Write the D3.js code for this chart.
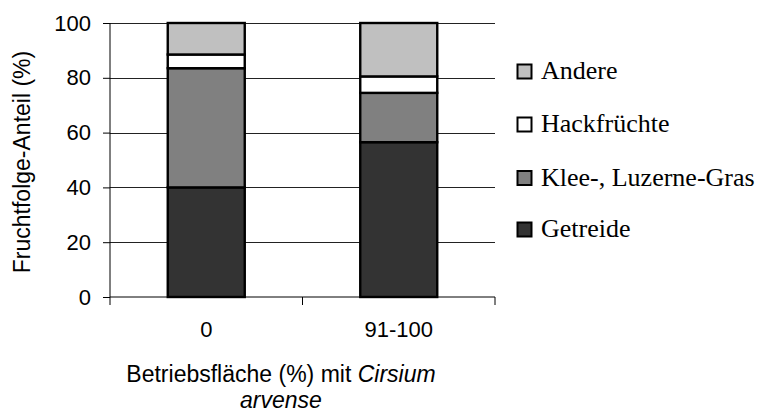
<!DOCTYPE html>
<html>
<head>
<meta charset="utf-8">
<script src="https://cdn.jsdelivr.net/npm/d3@7"></script>
<style>
  html, body { margin: 0; padding: 0; background: #fff; }
  svg { display: block; }
</style>
</head>
<body>
<svg id="chart" width="765" height="414"></svg>
<script>
// ---- Data ----
const categories = ["0", "91-100"];
const seriesNames = ["Getreide", "Klee-, Luzerne-Gras", "Hackfrüchte", "Andere"];
const getreide = [40, 56.5];
const kleeGras = [43.5, 18];
const hackfruechte = [5, 6];
const andere = [11.5, 19.5];
const yTicks = [0, 20, 40, 60, 80, 100];
const legendOrder = ["Andere", "Hackfrüchte", "Klee-, Luzerne-Gras", "Getreide"];
const colors = {
  "Getreide": "#333333",
  "Klee-, Luzerne-Gras": "#808080",
  "Hackfrüchte": "#ffffff",
  "Andere": "#c0c0c0"
};

const rows = categories.map((c, i) => ({
  cat: c,
  "Getreide": getreide[i],
  "Klee-, Luzerne-Gras": kleeGras[i],
  "Hackfrüchte": hackfruechte[i],
  "Andere": andere[i]
}));

const sans = "'Liberation Sans', Arial, sans-serif";
const serif = "'Liberation Serif', 'Times New Roman', serif";

const svg = d3.select("#chart");
const pLeft = 110, pRight = 495, pTop = 23, pBottom = 297;

const x = d3.scaleBand().domain(categories).range([pLeft, pRight])
  .paddingInner(0.6).paddingOuter(0.3);
const y = d3.scaleLinear().domain([0, 100]).range([pBottom, pTop]);

// gridlines
svg.append("g").selectAll("line").data(yTicks.filter(d => d > 0)).join("line")
  .attr("x1", pLeft).attr("x2", pRight)
  .attr("y1", d => Math.round(y(d)) + 0.5).attr("y2", d => Math.round(y(d)) + 0.5)
  .attr("stroke", "#222").attr("stroke-width", 1);

// bars
const stack = d3.stack().keys(seriesNames)(rows);
svg.append("g").selectAll("g").data(stack).join("g")
  .attr("fill", d => colors[d.key])
  .selectAll("rect").data(d => d).join("rect")
  .attr("x", d => x(d.data.cat))
  .attr("width", x.bandwidth())
  .attr("y", d => y(d[1]))
  .attr("height", d => y(d[0]) - y(d[1]))
  .attr("stroke", "#000").attr("stroke-width", 2.4);

// y axis
const yAxis = d3.axisLeft(y).tickValues(yTicks).tickSize(7).tickPadding(12);
const gy = svg.append("g").attr("transform", `translate(${pLeft},0)`).call(yAxis);
gy.select(".domain").attr("stroke", "#000").attr("d", `M0,${pBottom}V${pTop}`);
gy.selectAll(".tick line").attr("stroke", "#000");
gy.selectAll("text").attr("font-family", sans)
  .attr("font-size", 22).attr("fill", "#000");

// x axis
const xAxis = d3.axisBottom(x).tickSize(0).tickPadding(24);
const gx = svg.append("g").attr("transform", `translate(0,${pBottom})`).call(xAxis);
gx.select(".domain").attr("d", `M${pLeft},0H${pRight}`).attr("stroke", "#000");
gx.selectAll("text").attr("font-family", sans)
  .attr("font-size", 22).attr("fill", "#000");
// category separator ticks
const sepPositions = [pLeft, ...categories.slice(1).map(c => x(c) - x.step() * x.paddingInner() / 2), pRight];
gx.append("g").selectAll("line").data(sepPositions).join("line")
  .attr("x1", d => d).attr("x2", d => d).attr("y1", 0).attr("y2", 8)
  .attr("stroke", "#000");

// y title
svg.append("text")
  .attr("transform", "translate(30,162) rotate(-90)")
  .attr("text-anchor", "middle")
  .attr("font-family", sans)
  .attr("font-size", 23).attr("fill", "#000")
  .text("Fruchtfolge-Anteil (%)");

// x title
const xt = svg.append("text")
  .attr("text-anchor", "middle")
  .attr("font-family", sans)
  .attr("font-size", 23).attr("fill", "#000");
const l1 = xt.append("tspan").attr("x", 281).attr("y", 382);
l1.append("tspan").text("Betriebsfläche (%) mit ");
l1.append("tspan").attr("font-style", "italic").text("Cirsium");
xt.append("tspan").attr("x", 281).attr("y", 408).attr("font-style", "italic").text("arvense");

// legend
const legY = [71.5, 124.5, 178, 229.5];
const lg = svg.append("g").selectAll("g").data(legendOrder).join("g")
  .attr("transform", (d, i) => `translate(517,${legY[i]})`);
lg.append("rect").attr("x", 0.5).attr("y", -7).attr("width", 14).attr("height", 14)
  .attr("fill", d => colors[d]).attr("stroke", "#000").attr("stroke-width", 2);
lg.append("text").attr("x", 24).attr("y", 7.5)
  .attr("font-family", serif)
  .attr("font-size", 26).attr("fill", "#000")
  .text(d => d);
</script>
</body>
</html>
